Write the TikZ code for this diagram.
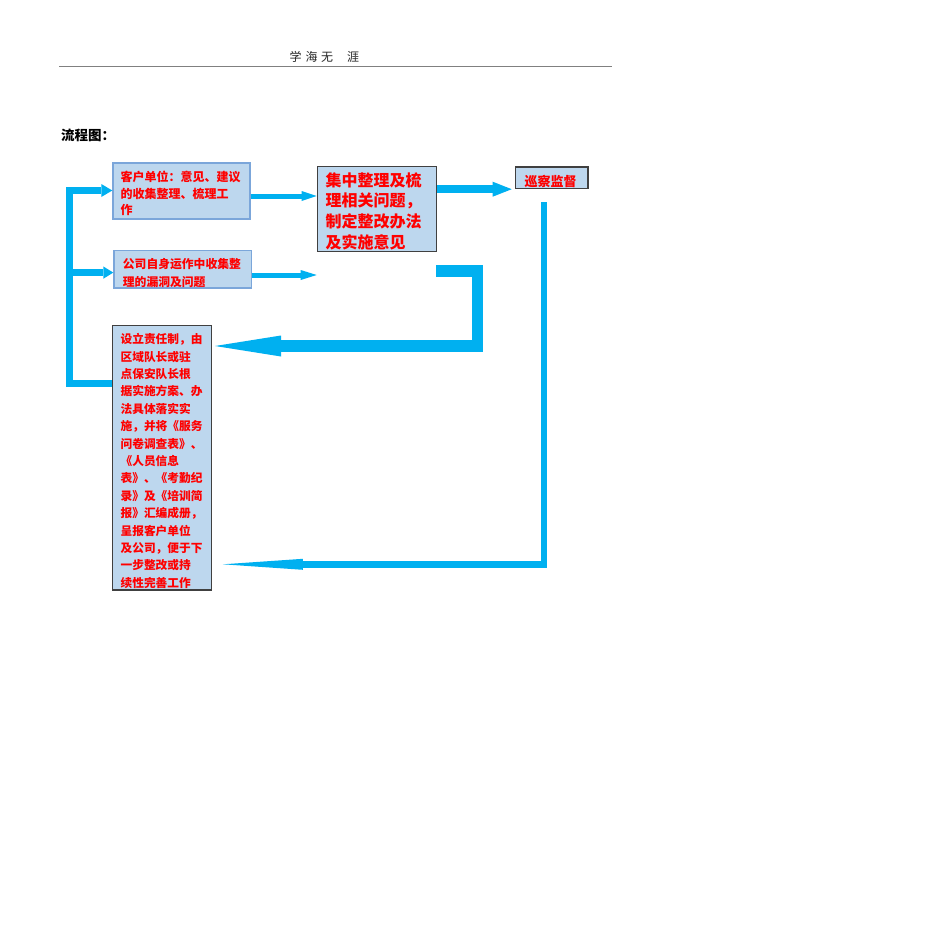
\documentclass[tikz,border=0pt]{standalone}
\usepackage{fontspec}
\newfontfamily\cjk{Noto Sans CJK SC}
\usetikzlibrary{arrows.meta}
\definecolor{flowcyan}{HTML}{00B0F0}
\definecolor{boxfill}{HTML}{BDD7EE}
\definecolor{boxblue}{HTML}{7BA6DA}
\definecolor{boxdark}{HTML}{404040}
\definecolor{txtred}{HTML}{FF0000}
\tikzset{
  box/.style={rectangle, fill=boxfill, inner sep=0pt, anchor=north west},
  bluebox/.style={box, draw=boxblue, line width=1.2pt},
  darkbox/.style={box, draw=boxdark, line width=1.2pt},
  redtext/.style={anchor=west, inner sep=0pt, align=left, text=txtred},
  flow/.style={draw=flowcyan, line join=miter, line cap=butt},
}
\begin{document}
\begin{tikzpicture}[x=1pt,y=-1pt]
\useasboundingbox (0,0) rectangle (950,950);
\fill[white] (0,0) rectangle (950,950);

% header
\node[anchor=west, inner sep=0pt, text=black!85, font=\cjk\fontsize{12}{14}\selectfont] (hdr) at (289.5,56.7) {学\hspace{4pt}海\hspace{3.5pt}无\hspace{14pt}涯};
\draw[black!50, line width=1.3pt] (59,66.7) -- (612,66.7);

% title
\node[anchor=west, inner sep=0pt, font=\cjk\bfseries\fontsize{13.5}{15}\selectfont] (ttl) at (61,135.5) {流程图：};

% boxes
\node[bluebox, minimum width=137pt, minimum height=56pt] (b1) at (112.3,162.3) {};
\node[bluebox, minimum width=137.4pt, minimum height=37.3pt] (b2) at (113.3,250) {};
\node[darkbox, minimum width=119pt, minimum height=85.3pt] (b3) at (316.7,165.7) {};
\node[darkbox, minimum width=72.3pt, minimum height=21.4pt] (b4) at (515,166.3) {};
\node[darkbox, minimum width=99.5pt, minimum height=264.3pt] (b5) at (111.7,325) {};

% texts
\node[redtext, font=\cjk\bfseries\fontsize{12}{16.7}\selectfont] (t1) at (120.4,193.6)
  {客户单位：意见、建议\\的收集整理、梳理工\\作};
\node[redtext, font=\cjk\bfseries\fontsize{11.8}{17.4}\selectfont] (t2) at (122.7,273)
  {公司自身运作中收集整\\理的漏洞及问题};
\node[redtext, font=\cjk\bfseries\fontsize{16}{20.8}\selectfont] (t3) at (325.3,211.2)
  {集中整理及梳\\理相关问题，\\制定整改办法\\及实施意见};
\node[redtext, font=\cjk\bfseries\fontsize{13}{15}\selectfont] (t4) at (524.4,181.2)
  {巡察监督};
\node[redtext, font=\cjk\bfseries\fontsize{11.7}{17.4}\selectfont] (t5) at (120.4,461)
  {设立责任制，由\\区域队长或驻\\点保安队长根\\据实施方案、办\\法具体落实实\\施，并将《服务\\问卷调查表》、\\《人员信息\\表》、《考勤纪\\录》及《培训简\\报》汇编成册，\\呈报客户单位\\及公司，便于下\\一步整改或持\\续性完善工作};

% coordinates
\coordinate (lvb) at (69.3,383.3);
\coordinate (lvt) at (69.3,190.5);
\coordinate (lvm) at (69.3,272.6);
\coordinate (a13) at (250,196);
\coordinate (a2) at (251,275);
\coordinate (e2) at (316.7,275);
\coordinate (a34) at (436,189.2);
\coordinate (s3) at (436,271.2);
\coordinate (c3a) at (477.5,271.2);
\coordinate (c3b) at (477.5,346);
\coordinate (s4) at (543.9,202.3);
\coordinate (c4) at (543.9,564.3);

% connectors
\draw[flow, line width=6.6pt, -{Triangle[length=11pt,width=13pt,line width=0pt]}]
  (b5.west |- lvb) -- (lvb) -- (lvt) -- (lvt -| b1.west);
\draw[flow, line width=6.6pt, -{Triangle[length=10pt,width=12.3pt,line width=0pt]}]
  (lvm) -- (lvm -| b2.west);
\draw[flow, line width=5pt, -{Triangle[length=15pt,width=10pt,line width=0pt]}]
  (b1.east |- a13) -- (a13 -| b3.west);
\draw[flow, line width=5pt, -{Triangle[length=16pt,width=10pt,line width=0pt]}]
  (b2.east |- a2) -- (e2);
\draw[flow, line width=8.3pt, -{Triangle[length=19pt,width=15pt,line width=0pt]}, shorten >=3.3pt]
  (b3.east |- a34) -- (a34 -| b4.west);
\draw[flow, line width=11.5pt, -{Triangle[length=66pt,width=21pt,line width=0pt]}, shorten >=2.6pt]
  (s3) -- (c3a) -- (c3b) -- (c3b -| b5.east);
\draw[flow, line width=6.8pt, -{Triangle[length=80pt,width=11pt,line width=0pt]}, shorten >=10.5pt]
  (s4) -- (c4) -- (c4 -| b5.east);
\end{tikzpicture}
\end{document}
